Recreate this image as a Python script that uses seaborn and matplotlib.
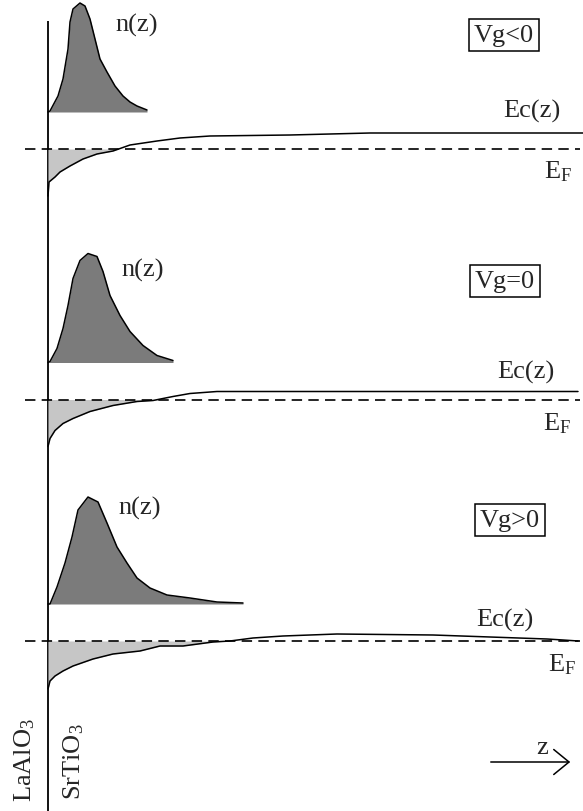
import numpy as np
import pandas as pd
import matplotlib.pyplot as plt
import seaborn as sns

sns.set_theme(style="white")
plt.rcParams['font.family'] = ['Liberation Serif', 'DejaVu Serif']
plt.rcParams['mathtext.fontset'] = 'custom'
plt.rcParams['mathtext.rm'] = 'Liberation Serif'
plt.rcParams['mathtext.it'] = 'Liberation Serif:italic'
plt.rcParams['lines.scale_dashes'] = False

# depth z from the interface, values in screen units
labels = ["Vg<0", "Vg=0", "Vg>0"]

n_z = [
    [0, 2, 10, 15, 20, 22, 25, 32, 37, 42, 47, 52, 59, 67, 75, 82, 89, 99],
    [0, 2, 9, 15, 20, 25, 32, 40, 49, 55, 62, 72, 82, 95, 109, 125],
    [0, 2, 9, 17, 24, 30, 40, 50, 59, 69, 79, 89, 102, 119, 142, 169, 195],
]
n_val = [
    [0, 1, 16, 33, 63, 90, 103, 109, 106, 93, 73, 53, 40, 26, 16, 10, 6, 2],
    [0, 1, 14, 34, 57, 84, 102, 109, 106, 91, 67, 47, 31, 17, 7, 2],
    [0, 0, 17, 41, 67, 94, 107, 102, 81, 57, 41, 26, 16, 9, 6, 2, 1],
]

ec_z = [
    [0, 1, 7, 12, 22, 35, 49, 65, 82, 109, 132, 162, 242, 322, 535],
    [0, 2, 7, 15, 25, 42, 65, 89, 105, 125, 142, 169, 530],
    [0, 2, 7, 15, 25, 45, 65, 92, 112, 135, 165, 182, 205, 235, 289, 385, 442, 499, 515, 530],
]
ec_val = [
    [-47, -33, -28, -23, -17, -10, -5, -2, 4, 8, 11, 13, 14, 16, 16],
    [-47, -39, -31, -24, -19, -12, -6, -2, -1, 3, 6, 8, 8],
    [-48, -40, -35, -30, -25, -18, -13, -10, -5, -5, -1, 0, 3, 5, 7, 6, 4, 2, 1, 0],
]

W, H = 583, 812
x0 = 48            # interface position (px)
n_base = 37        # n(z) baseline above E_F
ef_row = [150, 400.5, 642]
bands = [(0, 235), (235, 480), (480, 720)]

fig = plt.figure(figsize=(W / 100, H / 100), dpi=100)

# overlay axes in pixel units for texts / frame
ax0 = fig.add_axes([0, 0, 1, 1])
ax0.set_xlim(0, W)
ax0.set_ylim(H, 0)
ax0.axis('off')
ax0.patch.set_alpha(0)

fs = 19
for i in range(3):
    top, bot = bands[i]
    ax = fig.add_axes([0, 1 - bot / H, 1, (bot - top) / H])
    ax.set_xlim(-x0, W - x0)
    ax.set_ylim(ef_row[i] - bot, ef_row[i] - top)
    ax.axis('off')
    ax.patch.set_alpha(0)

    dn = pd.DataFrame({"z": n_z[i], "n": np.array(n_val[i]) + n_base})
    de = pd.DataFrame({"z": ec_z[i], "E": ec_val[i]})

    ax.hlines(0, -23, 532, colors='black', lw=1.2, linestyles=(0, (7.5, 4.5)))
    ax.fill_between(dn["z"], n_base, dn["n"], color='#7b7b7b', lw=0)
    sns.lineplot(data=dn, x="z", y="n", estimator=None, sort=False,
                 color='black', lw=1.1, ax=ax)
    ax.fill_between(de["z"], de["E"], 0, where=de["E"] < 0, interpolate=True,
                    color='#c6c6c6', lw=0)
    sns.lineplot(data=de, x="z", y="E", estimator=None, sort=False,
                 color='black', lw=1.1, ax=ax)

# vertical interface line
ax0.vlines(x0, 22, H, colors='black', lw=1.3)

for (x, y) in [(137, 25), (143, 270), (140, 508)]:
    ax0.text(x, y, "n(z)", fontsize=fs, ha='center', va='center')
for (x, y), lab in zip([(504, 36), (505, 282), (510, 521)], labels):
    ax0.text(x, y, lab, fontsize=fs, ha='center', va='center',
             bbox=dict(boxstyle='square,pad=0.18', fc='white', ec='black', lw=1.1))
for (x, y) in [(532, 111), (526, 372), (505, 620)]:
    ax0.text(x, y, "Ec(z)", fontsize=fs, ha='center', va='center')
for (x, y) in [(558, 172), (557, 424), (562, 665)]:
    ax0.text(x, y, r"E$_\mathrm{F}$", fontsize=fs, ha='center', va='center')

ax0.text(25, 760, r"LaAlO$_3$", fontsize=fs, rotation=90, ha='center', va='center')
ax0.text(74, 762, r"SrTiO$_3$", fontsize=fs, rotation=90, ha='center', va='center')

ax0.annotate('', xy=(573, 763), xytext=(488, 763),
             arrowprops=dict(arrowstyle='->,head_length=0.55,head_width=0.45',
                             mutation_scale=20, color='black', lw=1.1))
ax0.text(542, 748, "z", fontsize=fs, ha='center', va='center')

fig.savefig("out.png", dpi=100)
